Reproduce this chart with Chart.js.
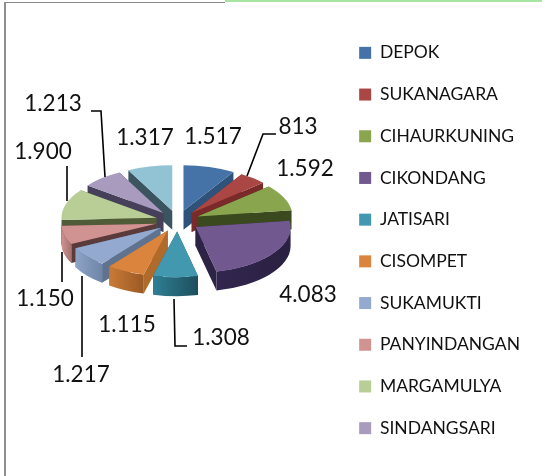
<!DOCTYPE html>
<html><head><meta charset="utf-8">
<style>
html,body{margin:0;padding:0;background:#fff;overflow:hidden}
#wrap{position:relative;width:542px;height:476px}
canvas{position:absolute;left:0;top:0}
.edge{position:absolute}
</style>
<script src="https://cdn.jsdelivr.net/npm/chart.js@4"></script>
</head><body>
<div id="wrap">
<canvas id="c" width="542" height="476"></canvas>
<div class="edge" style="left:4px;top:2px;width:2px;height:474px;background:#8f8f8f"></div>
<div class="edge" style="left:4px;top:2px;width:221px;height:1px;background:#8a8a8a"></div>
<div class="edge" style="left:225px;top:0;width:317px;height:2px;background:#a8e4a2"></div>
</div>
<script>
const categories = ['DEPOK','SUKANAGARA','CIHAURKUNING','CIKONDANG','JATISARI','CISOMPET','SUKAMUKTI','PANYINDANGAN','MARGAMULYA','SINDANGSARI',''];
const values = [1517,813,1592,4083,1308,1115,1217,1150,1900,1213,1317];
const topColors = ['#4572a7','#aa4643','#89a54e','#71588f','#4198af','#db843d','#93a9cf','#d19392','#b9cd96','#a99bbd','#92c3d4'];
const faceColors = ['#2e5279','#7a2a28','#3b4a1e','#2d2345','#1f5563','#b06a2a','#5f7391','#5a3a3a','#4f5c37','#47405a','#3b5560'];
const wallLight = ['#3a6290','#8e3634','#6f8a3c','#322650','#2f7f95','#c97a36','#8ea3c6','#d19392','#98aa78','#8a7ea0','#76a0b0'];
const wallDark = ['#2e5279','#7a2a28','#4e6228','#2a2040','#1d4f5d','#9a5a24','#6f86a8','#a57270','#77875c','#6a6080','#5a8090'];

const SQUASH = 0.48, DEPTH = 19, TARGET_Y = 221, EXPLODE = 22, PIE_R = 95;
const fmt = v => String(v).replace(/\B(?=(\d{3})+$)/g, '.');

// label centres and their leader lines, placed by hand as in the source
const labelSpots = [[213,137],[298,127],[305,169],[308,295],[221,338],[127,325],[81,375],[45,299],[43,152],[53,104],[145,138]];
const leaders = [null,[[276,134],[263,134],[247,176]],null,null,[[187,346],[175,346],[174,299]],null,[[82,357],[82,276]],[[62,282],[62,252]],[[67,166],[67,201]],[[91,111],[101,111],[105,177]],null];

let pieCy = 0;
function slicePrism(arc, i) {
  return {
    i, a0: arc.startAngle, a1: arc.endAngle, R: arc.outerRadius,
    ax: arc.x,
    ay: TARGET_Y + (arc.y - pieCy) * SQUASH
  };
}
const pieLook = {
  id: 'pieLook',
  afterDatasetsUpdate(chart) {
    // explode each slice along its own middle direction
    const area = chart.chartArea;
    pieCy = (area.top + area.bottom) / 2;
    chart.getDatasetMeta(0).data.forEach(arc => {
      const mid = (arc.startAngle + arc.endAngle) / 2;
      arc.x += Math.cos(mid) * EXPLODE;
      arc.y += Math.sin(mid) * EXPLODE;
    });
  },
  beforeDatasetsDraw(chart) {
    const ctx = chart.ctx, arcs = chart.getDatasetMeta(0).data;
    const prisms = arcs.map(slicePrism).sort((s, t) =>
      Math.sin((s.a0 + s.a1) / 2) - Math.sin((t.a0 + t.a1) / 2));
    for (const s of prisms) {
      const pt = a => [s.ax + s.R * Math.cos(a), s.ay + s.R * SQUASH * Math.sin(a)];
      ctx.fillStyle = faceColors[s.i];
      for (const a of [s.a0, s.a1]) {
        const q = pt(a);
        ctx.beginPath();
        ctx.moveTo(s.ax, s.ay); ctx.lineTo(q[0], q[1]);
        ctx.lineTo(q[0], q[1] + DEPTH); ctx.lineTo(s.ax, s.ay + DEPTH);
        ctx.closePath(); ctx.fill();
      }
      // outer wall: only the stretch of rim facing the viewer
      const TAU = Math.PI * 2;
      for (const k of [-1, 0, 1]) {
        const from = Math.max(s.a0, k * TAU), to = Math.min(s.a1, k * TAU + Math.PI);
        if (to <= from) continue;
        const left = pt(to)[0], right = pt(from)[0];
        const g = ctx.createLinearGradient(left, 0, right, 0);
        g.addColorStop(0, wallLight[s.i]); g.addColorStop(1, wallDark[s.i]);
        ctx.fillStyle = g;
        ctx.beginPath();
        ctx.ellipse(s.ax, s.ay, s.R, s.R * SQUASH, 0, from, to);
        ctx.ellipse(s.ax, s.ay + DEPTH, s.R, s.R * SQUASH, 0, to, from, true);
        ctx.closePath(); ctx.fill();
      }
    }
    ctx.save();
    ctx.translate(0, TARGET_Y);
    ctx.scale(1, SQUASH);
    ctx.translate(0, -pieCy);
  },
  afterDatasetsDraw(chart) {
    const ctx = chart.ctx;
    ctx.restore();
    ctx.save();
    ctx.strokeStyle = '#000'; ctx.lineWidth = 1.6;
    leaders.forEach(l => {
      if (!l) return;
      ctx.beginPath();
      l.forEach((q, n) => n ? ctx.lineTo(q[0], q[1]) : ctx.moveTo(q[0], q[1]));
      ctx.stroke();
    });
    ctx.fillStyle = '#111';
    ctx.font = '22.5px Lato';
    ctx.textAlign = 'center'; ctx.textBaseline = 'middle';
    values.forEach((v, i) => ctx.fillText(fmt(v), labelSpots[i][0], labelSpots[i][1]));
    ctx.restore();
  }
};

new Chart(document.getElementById('c'), {
  type: 'pie',
  data: { labels: categories, datasets: [{ data: values, backgroundColor: topColors, borderWidth: 0, radius: PIE_R }] },
  options: {
    responsive: false, animation: false,
    layout: { padding: { left: 20, right: 12, top: 5, bottom: 0 } },
    plugins: {
      tooltip: { enabled: false },
      legend: {
        position: 'right', align: 'center',
        labels: {
          filter: item => item.text !== '',
          boxWidth: 12, boxHeight: 12, padding: 24.2, color: '#111',
          font: { family: 'Lato', size: 17.5 }
        }
      }
    }
  },
  plugins: [pieLook]
});
</script>
</body></html>
